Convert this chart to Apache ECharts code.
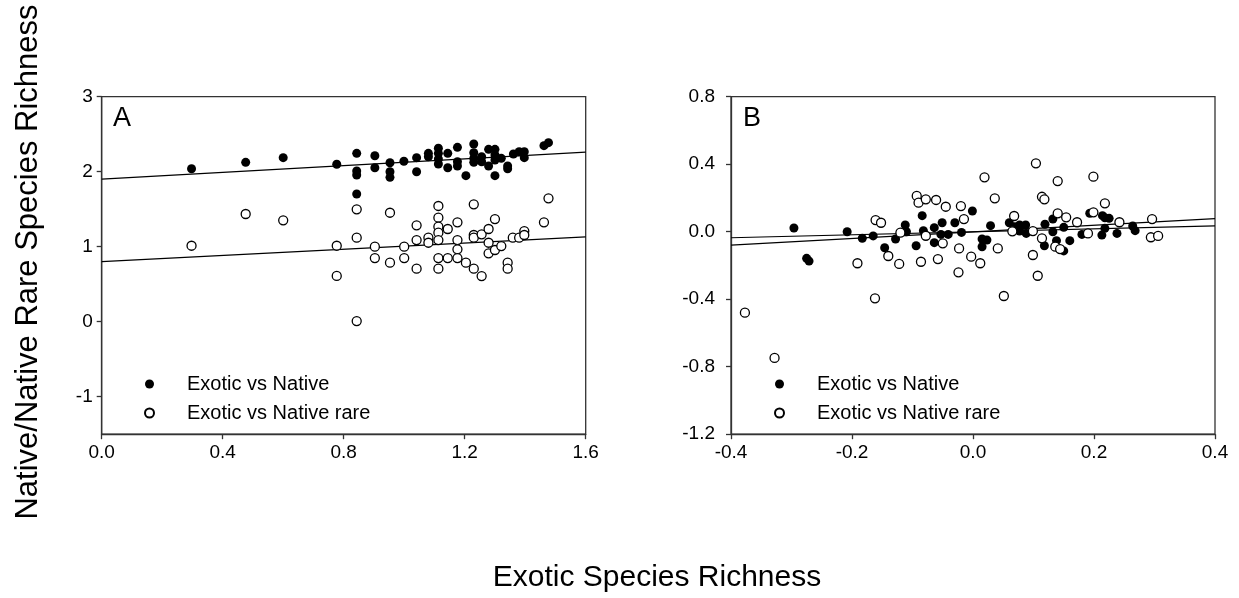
<!DOCTYPE html>
<html>
<head>
<meta charset="utf-8">
<script src="https://cdn.jsdelivr.net/npm/echarts@6/dist/echarts.min.js"></script>
<style>
  html, body { margin: 0; padding: 0; background: #fff; }
  #chart { width: 1239px; height: 598px; }
</style>
</head>
<body>
<div id="chart"></div>
<script>
// panel A: exotic richness vs native / native rare richness
var aNative = [
  [0.297, 2.04], [0.476, 2.125], [0.600, 2.187], [0.777, 2.10],
  [0.843, 2.245], [0.843, 2.009], [0.843, 1.956], [0.843, 1.703],
  [0.903, 2.213], [0.903, 2.053],
  [0.953, 2.12], [0.953, 2.0], [0.953, 1.925],
  [0.999, 2.14],
  [1.041, 2.187], [1.041, 2.0],
  [1.08, 2.245], [1.08, 2.2],
  [1.113, 2.312], [1.113, 2.245], [1.113, 2.17], [1.113, 2.103],
  [1.144, 2.245], [1.144, 2.053],
  [1.176, 2.325], [1.176, 2.133], [1.176, 2.076],
  [1.204, 1.947],
  [1.23, 2.37], [1.23, 2.253], [1.23, 2.178], [1.23, 2.125],
  [1.256, 2.2], [1.256, 2.133],
  [1.279, 2.298], [1.279, 2.076],
  [1.3, 2.298], [1.3, 2.222], [1.3, 2.156], [1.3, 1.947],
  [1.321, 2.178], [1.342, 2.076], [1.342, 2.04],
  [1.361, 2.236], [1.38, 2.267], [1.397, 2.267], [1.397, 2.187],
  [1.462, 2.347], [1.477, 2.387]
];
var aRare = [
  [0.297, 1.013], [0.476, 1.436], [0.600, 1.352], [0.777, 1.013], [0.777, 0.61],
  [0.843, 1.499], [0.843, 1.12], [0.843, 0.009],
  [0.903, 1.0], [0.903, 0.849],
  [0.953, 1.453], [0.953, 0.787],
  [1.0, 1.0], [1.0, 0.849],
  [1.041, 1.285], [1.041, 1.089], [1.041, 0.707],
  [1.08, 1.12], [1.08, 1.053],
  [1.113, 1.543], [1.113, 1.387], [1.113, 1.267], [1.113, 1.187], [1.113, 1.089], [1.113, 0.849], [1.113, 0.707],
  [1.144, 1.236], [1.144, 0.849],
  [1.176, 1.325], [1.176, 1.089], [1.176, 0.965], [1.176, 0.849],
  [1.204, 0.787],
  [1.23, 1.565], [1.23, 1.156], [1.23, 1.12], [1.23, 0.707],
  [1.256, 1.165], [1.256, 0.609],
  [1.279, 1.236], [1.279, 1.053], [1.279, 0.912],
  [1.3, 1.369], [1.3, 0.956],
  [1.321, 1.009],
  [1.342, 0.787], [1.342, 0.707],
  [1.359, 1.12], [1.38, 1.12], [1.397, 1.209], [1.397, 1.156],
  [1.462, 1.325], [1.477, 1.645]
];
var aNativeFit = [[0, 1.90], [1.6, 2.26]];
var aRareFit = [[0, 0.80], [1.6, 1.13]];

// panel B: residuals
var bNative = [
  [-0.296, 0.022], [-0.275, -0.158], [-0.271, -0.174], [-0.208, 0.0],
  [-0.183, -0.039], [-0.165, -0.025], [-0.146, -0.095], [-0.128, -0.043],
  [-0.112, 0.04], [-0.11, 0.0],
  [-0.084, 0.095], [-0.094, -0.083], [-0.082, 0.006], [-0.064, 0.024],
  [-0.051, 0.053], [-0.064, -0.065], [-0.053, -0.016], [-0.041, -0.016],
  [-0.03, 0.053], [-0.019, -0.004], [-0.001, 0.123],
  [0.015, -0.043], [0.023, -0.049], [0.015, -0.089], [0.029, 0.036],
  [0.06, 0.053], [0.069, 0.03], [0.077, 0.04], [0.087, 0.04], [0.088, -0.01], [0.077, 0.004],
  [0.119, 0.044], [0.132, 0.075], [0.132, 0.0], [0.118, -0.083], [0.138, -0.053],
  [0.15, 0.026], [0.15, -0.114], [0.16, -0.053], [0.18, -0.016],
  [0.193, 0.109], [0.214, 0.095], [0.218, 0.083], [0.225, 0.079],
  [0.218, 0.02], [0.213, -0.02], [0.238, -0.01], [0.264, 0.034], [0.268, 0.006]
];
var bRare = [
  [-0.377, -0.48], [-0.328, -0.748], [-0.191, -0.187], [-0.162, -0.395],
  [-0.161, 0.069], [-0.152, 0.053], [-0.14, -0.144], [-0.122, -0.191], [-0.12, -0.006],
  [0.104, 0.405], [0.019, 0.322], [0.14, 0.30], [0.199, 0.326],
  [-0.093, 0.212], [-0.09, 0.172], [-0.078, 0.192], [-0.061, 0.188],
  [-0.045, 0.148], [-0.02, 0.152], [0.036, 0.198], [0.114, 0.207], [0.118, 0.192], [0.218, 0.168],
  [0.068, 0.093], [-0.015, 0.075], [0.14, 0.109], [0.154, 0.085], [0.199, 0.115],
  [0.172, 0.056], [0.242, 0.056], [0.296, 0.075],
  [-0.078, -0.024], [-0.05, -0.069], [0.065, 0.002], [0.099, 0.004], [0.114, -0.039],
  [0.19, -0.01], [0.294, -0.033], [0.306, -0.025],
  [-0.023, -0.099], [0.041, -0.099], [0.136, -0.089], [0.144, -0.103],
  [-0.086, -0.178], [-0.058, -0.162], [-0.003, -0.148], [0.012, -0.187], [0.099, -0.138],
  [-0.024, -0.241], [0.107, -0.261], [0.051, -0.381]
];
var bNativeFit = [[-0.4, -0.036], [0.4, 0.034]];
var bRareFit = [[-0.4, -0.079], [0.4, 0.077]];

var yTicksA = [-1, 0, 1, 2, 3];
var seriesNames = ['Exotic vs Native', 'Exotic vs Native rare'];

var FONT = 'Liberation Sans, Arial, Helvetica, sans-serif';
var AXIS_COLOR = '#333';

function oneDec(v) { return (Math.round(v * 10) / 10).toFixed(1); }

function axisBase(extra) {
  var ax = {
    type: 'value',
    axisLine: { show: true, onZero: false, lineStyle: { color: AXIS_COLOR, width: 1.3 } },
    axisTick: { show: true, inside: false, length: 5, lineStyle: { color: AXIS_COLOR, width: 1.3 } },
    axisLabel: { color: '#000', fontSize: 19, fontFamily: FONT, margin: 9 },
    splitLine: { show: false }
  };
  for (var k in extra) {
    if (typeof extra[k] === 'object' && ax[k] && !Array.isArray(extra[k])) {
      ax[k] = Object.assign({}, ax[k], extra[k]);
    } else {
      ax[k] = extra[k];
    }
  }
  return ax;
}

var filled = { color: '#000', opacity: 1 };
var hollow = { color: '#fff', borderColor: '#000', borderWidth: 1.3, opacity: 1 };
var fitStyle = { color: '#000', width: 1.2 };

function legendAt(left, top) {
  return {
    data: seriesNames, orient: 'vertical', left: left, top: top,
    icon: 'circle', itemWidth: 9, itemHeight: 9, itemGap: 9,
    selectedMode: false,
    textStyle: { fontSize: 20, fontFamily: FONT, color: '#000', lineHeight: 20, padding: [0, 0, 0, 28] }
  };
}

var chart = echarts.init(document.getElementById('chart'), null, { renderer: 'canvas' });

var option = {
  backgroundColor: '#fff',
  animation: false,
  grid: [
    { left: 101.7, top: 96.7, width: 484, height: 337.5, show: true, borderColor: AXIS_COLOR, borderWidth: 1.3 },
    { left: 731, top: 96.7, width: 484, height: 337.5, show: true, borderColor: AXIS_COLOR, borderWidth: 1.3 }
  ],
  title: [
    { text: 'A', left: 108, top: 100, textStyle: { fontSize: 27, fontWeight: 'normal', fontFamily: FONT, color: '#000' } },
    { text: 'B', left: 738, top: 100, textStyle: { fontSize: 27, fontWeight: 'normal', fontFamily: FONT, color: '#000' } }
  ],
  legend: [legendAt(139, 369), legendAt(769, 369)],
  xAxis: [
    axisBase({ gridIndex: 0, min: 0, max: 1.6, interval: 0.4, axisLabel: { formatter: oneDec } }),
    axisBase({ gridIndex: 1, min: -0.4, max: 0.4, interval: 0.2, axisLabel: { formatter: oneDec } })
  ],
  yAxis: [
    axisBase({ gridIndex: 0, min: -1.5, max: 3,
      axisTick: { customValues: yTicksA },
      axisLabel: { customValues: yTicksA, formatter: function (v) { return String(Math.round(v)); } } }),
    axisBase({ gridIndex: 1, min: -1.2, max: 0.8, interval: 0.4,
      axisLabel: { formatter: oneDec, margin: 16 } })
  ],
  graphic: [
    { type: 'text', x: 28, y: 262, rotation: Math.PI / 2,
      style: { text: 'Native/Native Rare Species Richness', fontSize: 31, fontFamily: FONT, fill: '#000',
        textAlign: 'center', textVerticalAlign: 'middle' } },
    { type: 'text', x: 657, y: 578,
      style: { text: 'Exotic Species Richness', fontSize: 30, fontFamily: FONT, fill: '#000',
        textAlign: 'center', textVerticalAlign: 'middle' } }
  ],
  series: [
    { name: seriesNames[0], type: 'scatter', xAxisIndex: 0, yAxisIndex: 0, symbol: 'circle', symbolSize: 9, itemStyle: filled, data: aNative },
    { name: seriesNames[1], type: 'scatter', xAxisIndex: 0, yAxisIndex: 0, symbol: 'circle', symbolSize: 9, itemStyle: hollow, data: aRare },
    { type: 'line', xAxisIndex: 0, yAxisIndex: 0, symbol: 'none', silent: true, lineStyle: fitStyle, data: aNativeFit, z: 1 },
    { type: 'line', xAxisIndex: 0, yAxisIndex: 0, symbol: 'none', silent: true, lineStyle: fitStyle, data: aRareFit, z: 1 },
    { name: seriesNames[0], type: 'scatter', xAxisIndex: 1, yAxisIndex: 1, symbol: 'circle', symbolSize: 9, itemStyle: filled, data: bNative },
    { name: seriesNames[1], type: 'scatter', xAxisIndex: 1, yAxisIndex: 1, symbol: 'circle', symbolSize: 9, itemStyle: hollow, data: bRare },
    { type: 'line', xAxisIndex: 1, yAxisIndex: 1, symbol: 'none', silent: true, lineStyle: fitStyle, data: bNativeFit, z: 1 },
    { type: 'line', xAxisIndex: 1, yAxisIndex: 1, symbol: 'none', silent: true, lineStyle: fitStyle, data: bRareFit, z: 1 }
  ]
};

chart.setOption(option);
</script>
</body>
</html>
